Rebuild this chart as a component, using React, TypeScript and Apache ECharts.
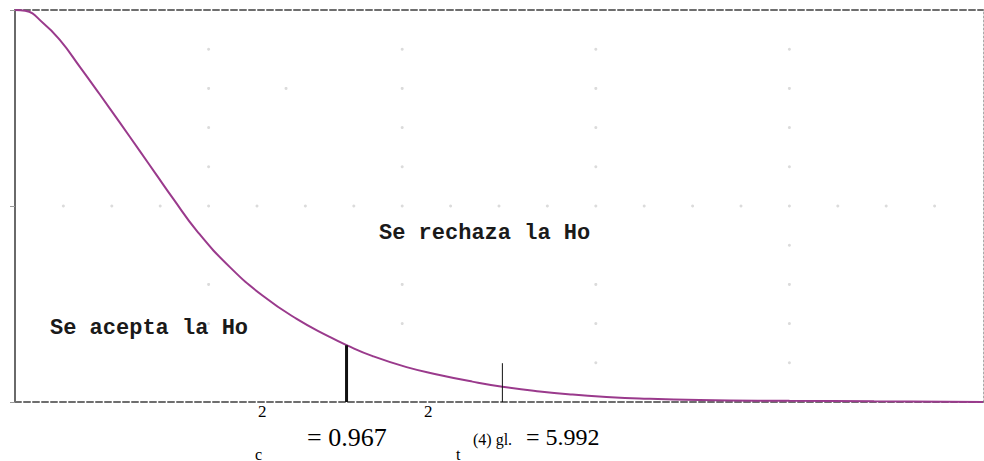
import React, { useEffect, useRef } from "react";
import * as echarts from "echarts";

// Density curve (x in chart units 0..20, y in units 0..10)
const curveX = [0, 0.21, 0.58, 0.93, 1.34, 1.75, 2.17, 2.58, 2.93, 3.26, 3.76, 4.44, 5.12, 5.82, 6.5, 6.85, 7.39, 8.09, 8.77, 9.45, 10.07, 10.84, 11.52, 12.22, 12.9, 14.14, 16.0, 17.75, 20];
const curveY = [10, 9.98, 9.67, 9.23, 8.55, 7.85, 7.12, 6.4, 5.78, 5.2, 4.36, 3.44, 2.71, 2.12, 1.66, 1.45, 1.17, 0.89, 0.69, 0.52, 0.39, 0.27, 0.19, 0.13, 0.09, 0.05, 0.03, 0.02, 0];

// Critical lines: calculated value (thick) and table value (thin)
const calcLineX = 6.85;
const calcLineTop = 1.45;
const tableLineX = 10.07;
const tableLineTop = 0.99;

// Faint background markers
const markerPoints: number[][] = [
  [4, 9], [4, 8], [4, 7], [4, 6], [4, 3], [4, 2],
  [8, 9], [8, 8], [8, 7], [8, 6], [8, 3], [8, 2],
  [12, 9], [12, 8], [12, 7], [12, 6], [12, 3], [12, 2], [12, 1],
  [16, 9], [16, 8], [16, 7], [16, 6], [16, 4], [16, 3], [16, 2], [16, 1],
  [1, 5], [2, 5], [3, 5], [4, 5], [5, 5], [6, 5], [7, 5], [8, 5], [9, 5], [10, 5],
  [11, 5], [12, 5], [13, 5], [14, 5], [15, 5], [16, 5], [17, 5], [18, 5], [19, 5],
  [5.6, 8],
];

const regionAccept = "Se acepta la Ho";
const regionReject = "Se rechaza la Ho";
const calcText = "= 0.967";
const tableText = "= 5.992";
const dfText = "(4) gl.";

export default function App() {
  const ref = useRef<HTMLDivElement>(null);
  useEffect(() => {
    document.body.style.margin = "0";
    const chart = echarts.init(ref.current!, null, { renderer: "svg" });
    const curve = curveX.map((x, i) => [x, curveY[i]]);
    const mono = "'Liberation Mono', 'DejaVu Sans Mono', monospace";
    const serif = "'Liberation Serif', 'DejaVu Serif', serif";
    chart.setOption({
      animation: false,
      backgroundColor: "#ffffff",
      grid: { left: 15, right: 1, top: 10, bottom: 59, show: false },
      xAxis: [
        {
          type: "value", min: 0, max: 20, position: "bottom",
          axisLine: { show: true, onZero: false, lineStyle: { color: "#6e6e6e", width: 2, type: [6, 3] } },
          axisTick: { show: false }, axisLabel: { show: false }, splitLine: { show: false },
        },
        {
          type: "value", min: 0, max: 20, position: "top",
          axisLine: { show: true, onZero: false, lineStyle: { color: "#6e6e6e", width: 2, type: [6, 3] } },
          axisTick: { show: false }, axisLabel: { show: false }, splitLine: { show: false },
        },
      ],
      yAxis: [
        {
          type: "value", min: 0, max: 10, interval: 5, position: "left",
          axisLine: { show: true, onZero: false, lineStyle: { color: "#6a6a6a", width: 2 } },
          axisTick: { show: true, length: 5, lineStyle: { color: "#999" } },
          axisLabel: { show: false }, splitLine: { show: false },
        },
        {
          type: "value", min: 0, max: 10, position: "right",
          axisLine: { show: true, onZero: false, lineStyle: { color: "#aaaaaa", width: 1, type: [2, 2] } },
          axisTick: { show: false }, axisLabel: { show: false }, splitLine: { show: false },
        },
      ],
      series: [
        {
          type: "scatter", data: markerPoints, symbol: "circle", symbolSize: 3,
          itemStyle: { color: "#d2d2d2" }, silent: true,
        },
        {
          type: "line", data: curve, smooth: 0.5, showSymbol: false,
          lineStyle: { color: "#9a3a8c", width: 2 },
        },
        {
          type: "line", data: [[calcLineX, 0], [calcLineX, calcLineTop]], showSymbol: false,
          lineStyle: { color: "#111", width: 3 },
        },
        {
          type: "line", data: [[tableLineX, 0], [tableLineX, tableLineTop]], showSymbol: false,
          lineStyle: { color: "#111", width: 1 },
        },
      ],
      graphic: [
        { type: "text", left: 50, top: 317, style: { text: regionAccept, font: `bold 22px ${mono}`, fill: "#1a1a1a" } },
        { type: "text", left: 379, top: 222, style: { text: regionReject, font: `bold 22px ${mono}`, fill: "#1a1a1a" } },
        { type: "text", left: 258, top: 403, style: { text: "2", font: `17px ${serif}`, fill: "#000" } },
        { type: "text", left: 424, top: 403, style: { text: "2", font: `17px ${serif}`, fill: "#000" } },
        { type: "text", left: 307, top: 424, style: { text: calcText, font: `26px ${serif}`, fill: "#000" } },
        { type: "text", left: 255, top: 446, style: { text: "c", font: `16px ${serif}`, fill: "#000" } },
        { type: "text", left: 473, top: 431, style: { text: dfText, font: `16px ${serif}`, fill: "#000" } },
        { type: "text", left: 526, top: 425, style: { text: tableText, font: `24px ${serif}`, fill: "#000" } },
        { type: "text", left: 456, top: 446, style: { text: "t", font: `16px ${serif}`, fill: "#000" } },
      ],
    });
    return () => chart.dispose();
  }, []);
  return <div ref={ref} style={{ width: 984, height: 461 }} />;
}
